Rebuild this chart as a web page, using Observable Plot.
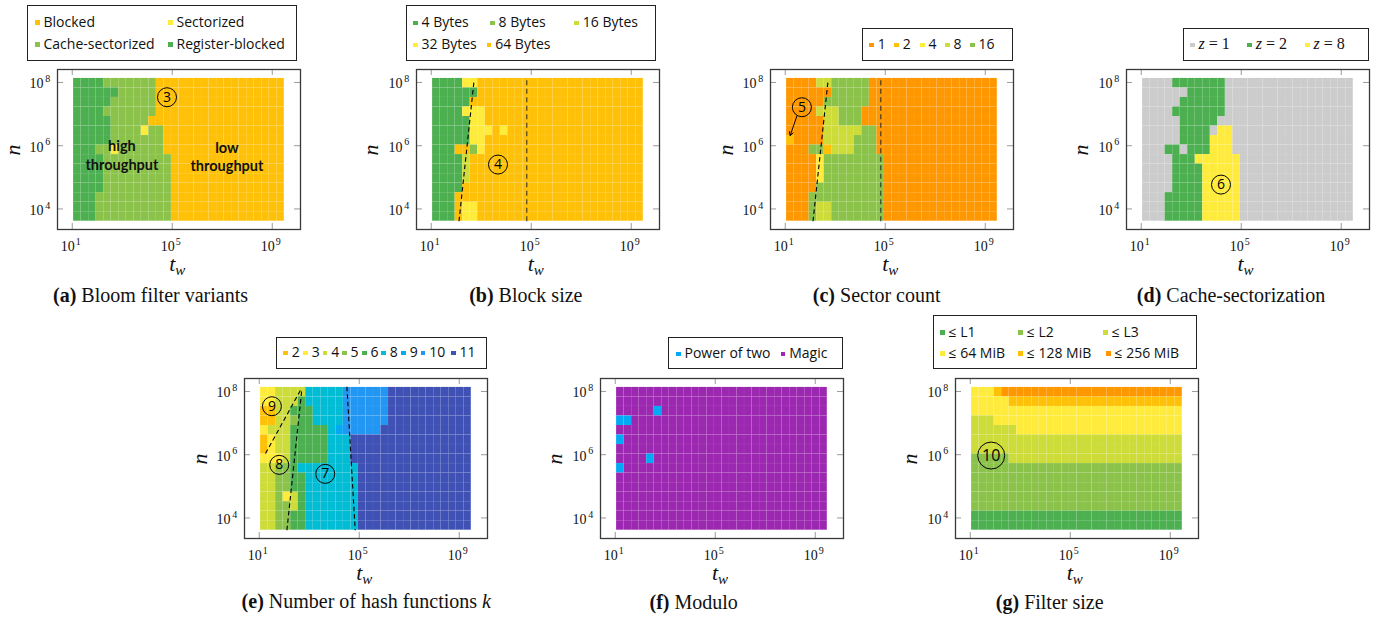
<!DOCTYPE html>
<html><head><meta charset="utf-8">
<script src="https://cdn.jsdelivr.net/npm/d3@7"></script>
<script src="https://cdn.jsdelivr.net/npm/@observablehq/plot@0.6"></script>
<style>
body{margin:0;background:#fff}
#root{position:relative;width:1387px;height:620px;overflow:hidden;background:#fff}
.legend{position:absolute;border:1.2px solid #222;box-sizing:border-box;background:#fff}
.li{position:absolute;display:flex;align-items:center;transform:translateY(-50%);height:18px;font-family:"Open Sans",sans-serif;font-size:14px;white-space:nowrap;color:#111}
.mk{display:inline-block;width:4.5px;height:4.5px;margin-right:4px;margin-top:3px}
.math{font-family:"Liberation Serif",serif;font-size:16px}
.cap{position:absolute;font-family:"Liberation Serif",serif;font-size:20px;white-space:nowrap;transform:translate(-50%,-50%);color:#111}
.atitle{position:absolute;font-family:"Liberation Serif",serif;font-style:italic;font-size:22px;white-space:nowrap;transform:translate(-50%,-50%);color:#111}
.atitle sub{font-size:15px;vertical-align:-4px}
.panel{position:absolute}
</style>
</head><body><div id="root"></div>
<script>
// ---------- axis categories ----------
const twExponents = [4,5,6,7,8,9,10,11,12,13,14,15,16,17,18,19,20,21,22,23,24,25,26,27,28,29,30,31]; // log2(t_w), column centres
const nExponents = [26,25,24,23,22,21,20,19,18,17,16,15,14,13,12]; // log2(n), row lower edges (top row first)
const xTicks = [1e1, 1e5, 1e9];
const yTicks = [1e4, 1e6, 1e8];

// ---------- (a) Bloom filter variants ----------
const bloomLabels = ["Blocked", "Sectorized", "Cache-sectorized", "Register-blocked"];
const bloomCodes = {B: "Blocked", S: "Sectorized", C: "Cache-sectorized", R: "Register-blocked"};
const bloomRows = [
  "R4 C7 B17", "R6 C5 B17", "R5 C6 B17", "R4 C7 B17", "R5 C5 B18",
  "R5 C4 S1 C2 B16", "R5 C7 B16", "R3 C2 S1 C6 B16",
  "R4 C9 B15", "R4 C9 B15", "R4 C9 B15", "R4 C9 B15",
  "R3 C10 B15", "R3 C10 B15", "R3 C10 B15"
];
// ---------- (b) Block size ----------
const blockLabels = ["4 Bytes", "8 Bytes", "16 Bytes", "32 Bytes", "64 Bytes"];
const blockCodes = {G: "4 Bytes", L: "8 Bytes", M: "16 Bytes", Y: "32 Bytes", A: "64 Bytes"};
const blockRows = [
  "G4 Y2 A22", "G6 A22", "G5 A23", "G4 Y3 A21", "G5 Y2 A21",
  "G5 Y3 A1 Y1 A18", "G5 Y2 A21", "G3 A2 L1 Y1 A21",
  "G4 M1 A23", "G4 M1 A23", "G4 M1 A23", "G4 A24",
  "G3 A25", "G3 A1 Y2 A22", "G3 A1 Y2 A22"
];
// ---------- (c) Sector count ----------
const sectorLabels = ["1", "2", "4", "8", "16"];
const sectorCodes = {O: "1", A: "2", Y: "4", M: "8", G: "16"};
const sectorRows = [
  "O4 M2 G5 O17", "O6 G5 O17", "O5 G6 O17", "O4 M3 G3 O18", "O5 M2 G3 O18",
  "O5 M5 G2 O16", "A1 O4 M4 G3 O16", "O3 G2 A1 M3 G3 O16",
  "O4 Y1 G8 O15", "O4 Y1 G8 O15", "O4 Y1 G8 O15", "O4 G9 O15",
  "O3 G10 O15", "O3 G1 M2 G7 O15", "O3 G1 M2 G7 O15"
];
// ---------- (d) Cache-sectorization ----------
const cacheLabels = ["z = 1", "z = 2", "z = 8"];
const cacheCodes = {Z: "z = 1", T: "z = 2", E: "z = 8"};
const cacheRows = [
  "Z4 T7 Z17", "Z6 T5 Z17", "Z5 T6 Z17", "Z4 T7 Z17", "Z5 T5 Z18",
  "Z5 T4 Z1 E2 Z16", "Z5 T4 E3 Z16", "Z3 T2 Z1 T3 E3 Z16",
  "Z4 T3 E6 Z15", "Z4 T4 E5 Z15", "Z4 T4 E5 Z15", "Z4 T4 E5 Z15",
  "Z3 T5 E5 Z15", "Z3 T5 E5 Z15", "Z3 T5 E5 Z15"
];
// ---------- (e) Number of hash functions k ----------
const hashLabels = ["2", "3", "4", "5", "6", "8", "9", "10", "11"];
const hashCodes = {A: "2", Y: "3", L: "4", G: "5", D: "6", C: "8", S: "9", B: "10", I: "11"};
const hashRows = [
  "Y2 L4 C5 B6 I11", "Y2 L3 D1 C5 B6 I11", "A2 L2 D3 C4 B6 I11", "A2 L2 G1 D2 C4 B6 I11",
  "Y1 L3 D5 C1 S1 B5 I12", "A1 Y1 L2 D5 C3 I16", "A1 Y1 L2 D5 C3 I16", "Y3 L1 D5 C3 I16",
  "L2 G2 D1 C8 I15", "L2 G2 D2 C7 I15", "L2 G2 D2 C7 I15", "L2 G1 Y1 L1 D1 C7 I15",
  "L2 G2 L1 D1 C7 I15", "L2 G2 D2 C7 I15", "L2 G2 D2 C7 I15"
];
// ---------- (f) Modulo ----------
const moduloLabels = ["Power of two", "Magic"];
const moduloCodes = {P: "Power of two", M: "Magic"};
const moduloRows = [
  "M28", "M28", "M5 P1 M22", "P2 M26", "M28", "P1 M27", "M28", "M4 P1 M23",
  "P1 M27", "M28", "M28", "M28", "M28", "M28", "M28"
];
// ---------- (g) Filter size ----------
const sizeLabels = ["≤ L1", "≤ L2", "≤ L3", "≤ 64 MiB", "≤ 128 MiB", "≤ 256 MiB"];
const sizeCodes = {A: "≤ L1", B: "≤ L2", C: "≤ L3", D: "≤ 64 MiB", E: "≤ 128 MiB", F: "≤ 256 MiB"};
const sizeRows = [
  "D3 E1 F24", "D5 E23", "D28", "C3 D25", "C6 D22", "C28", "C28", "B5 C23",
  "B28", "B28", "B28", "B28", "B28", "A28", "A28"
];

// ---------- annotations (log10 t_w, log10 n) ----------
const bloomCircles = [{x: 4.79, y: 7.533, label: "3"}];
const bloomNotes = [{x: 2.986, y: 5.72, text: "high\nthroughput"}, {x: 7.186, y: 5.673, text: "low\nthroughput"}];
const blockCircles = [{x: 3.67, y: 5.404, label: "4"}];
const sectorCircles = [{x: 1.666, y: 7.217, label: "5"}];
const sectorArrows = [{x1: 1.466, y1: 6.938, x2: 1.198, y2: 6.321}];
const cacheCircles = [{x: 4.19, y: 4.77, label: "6"}];
const hashCircles = [{x: 3.64, y: 5.394, label: "7"}, {x: 1.80, y: 5.679, label: "8"}, {x: 1.506, y: 7.533, label: "9"}];
const sizeCircles = [{x: 1.838, y: 5.973, label: "10"}];
const slantLines = [{x1: 2.11, y1: 3.61, x2: 2.71, y2: 8.04}];
const boundLines = [{x1: 4.82, y1: 3.612, x2: 4.82, y2: 8.128}];
const hashLines = [
  {x1: 1.25, y1: 6.037, x2: 2.65, y2: 8.04},
  {x1: 2.106, y1: 3.61, x2: 2.706, y2: 8.084},
  {x1: 4.506, y1: 8.147, x2: 4.838, y2: 3.61}
];

// ---------- style / layout ----------
const C = {amber: "#FFC107", yellow: "#FFEB3B", lime: "#CDDC39", lgreen: "#8BC34A", green: "#4CAF50",
  orange: "#FF9800", grey: "#CCCCCC", cyan: "#00BCD4", lblue: "#03A9F4", blue: "#2196F3",
  indigo: "#3F51B5", purple: "#9C27B0"};
const X_DOMAIN = [10 ** 0.41, 10 ** 10.13];
const Y_DOMAIN = [10 ** 3.35, 10 ** 8.41];
const FW = 243, FH = 160, ML = 60, MR = 10, MT = 10, MB = 30;

const panels = [
  {rows: bloomRows, codes: bloomCodes, labels: bloomLabels, colors: [C.amber, C.yellow, C.lgreen, C.green],
   frame: [57.3, 69], box: [27, 5, 297, 61], pos: [[35, 21], [168, 21], [35, 43], [168, 43]],
   cap: {x: 150.5, y: 295, tag: "(a)", text: "Bloom filter variants"},
   circles: bloomCircles, notes: bloomNotes},
  {rows: blockRows, codes: blockCodes, labels: blockLabels, colors: [C.green, C.lgreen, C.lime, C.yellow, C.amber],
   frame: [415.8, 69], box: [405.7, 5, 656, 61], pos: [[413, 21.7], [490, 21.7], [574.3, 21.7], [413, 43.3], [486.7, 43.3]],
   cap: {x: 525.8, y: 295, tag: "(b)", text: "Block size"},
   circles: blockCircles, slant: slantLines, bound: boundLines},
  {rows: sectorRows, codes: sectorCodes, labels: sectorLabels, colors: [C.orange, C.amber, C.yellow, C.lime, C.lgreen],
   frame: [770.3, 69], box: [861.7, 28.3, 1013.3, 60.7], pos: [[869.3, 43.3], [894.3, 43.3], [920, 43.3], [945, 43.3], [970, 43.3]],
   cap: {x: 876.7, y: 295, tag: "(c)", text: "Sector count"},
   circles: sectorCircles, arrows: sectorArrows, slant: slantLines, bound: boundLines},
  {rows: cacheRows, codes: cacheCodes, labels: cacheLabels, colors: [C.grey, C.green, C.yellow], math: true,
   frame: [1125.5, 69], box: [1182.7, 28.3, 1369, 60.7], pos: [[1190, 43.3], [1247.3, 43.3], [1305, 43.3]],
   cap: {x: 1231, y: 295, tag: "(d)", text: "Cache-sectorization"},
   circles: cacheCircles},
  {rows: hashRows, codes: hashCodes, labels: hashLabels,
   colors: [C.amber, C.yellow, C.lime, C.lgreen, C.green, C.cyan, C.lblue, C.blue, C.indigo],
   frame: [244.3, 378], box: [275.7, 337.3, 486.7, 369],
   pos: [[283.3, 351.7], [303.3, 351.7], [322.7, 351.7], [342, 351.7], [362, 351.7], [381.3, 351.7], [401.3, 351.7], [420.7, 351.7], [451, 351.7]],
   cap: {x: 366.3, y: 601, tag: "(e)", text: "Number of hash functions ", mathText: "k"},
   circles: hashCircles, slant: hashLines},
  {rows: moduloRows, codes: moduloCodes, labels: moduloLabels, colors: [C.lblue, C.purple],
   frame: [600, 377.7], box: [667.7, 336.7, 842.7, 369], pos: [[676, 352.7], [780.7, 352.7]],
   cap: {x: 693.7, y: 602, tag: "(f)", text: "Modulo"}},
  {rows: sizeRows, codes: sizeCodes, labels: sizeLabels,
   colors: [C.green, C.lgreen, C.lime, C.yellow, C.amber, C.orange],
   frame: [954.8, 378], box: [932.7, 315, 1196.7, 369],
   pos: [[940, 331], [1018.3, 331], [1103.3, 331], [940, 352], [1018.3, 352], [1106, 352]],
   cap: {x: 1049.7, y: 602, tag: "(g)", text: "Filter size"},
   circles: sizeCircles, circleR: 13.5, circleFont: 16}
];

const root = document.getElementById("root");

function decodeRow(row, codes) {
  const out = [];
  for (const run of row.split(" ")) {
    const code = run[0], len = +run.slice(1);
    for (let i = 0; i < len; i++) out.push(codes[code]);
  }
  return out;
}

function el(tag, cls, style, html) {
  const e = document.createElement(tag);
  if (cls) e.className = cls;
  Object.assign(e.style, style || {});
  if (html != null) e.innerHTML = html;
  root.appendChild(e);
  return e;
}

const serif = "Liberation Serif";
const tx = 10 ** (6 / 25), ty = 10 ** (6 / 31.6);
const P = v => 10 ** v;

for (const p of panels) {
  const cells = p.rows.flatMap((row, r) =>
    decodeRow(row, p.codes).map((cat, c) => ({tw: twExponents[c], n: nExponents[r], cat})));

  const marks = [
    Plot.rect(cells, {x1: d => 2 ** (d.tw - 0.5), x2: d => 2 ** (d.tw + 0.5), y1: d => 2 ** d.n, y2: d => 2 ** (d.n + 1),
      fill: "cat", stroke: "#fff", strokeOpacity: 0.06, strokeWidth: 0.5}),
    // inner ticks on all four sides
    Plot.ruleX(xTicks, {x: d => d, y1: Y_DOMAIN[0], y2: Y_DOMAIN[0] * ty, stroke: "#9a9a9a", strokeWidth: 1}),
    Plot.ruleX(xTicks, {x: d => d, y1: Y_DOMAIN[1], y2: Y_DOMAIN[1] / ty, stroke: "#9a9a9a", strokeWidth: 1}),
    Plot.ruleY(yTicks, {y: d => d, x1: X_DOMAIN[0], x2: X_DOMAIN[0] * tx, stroke: "#9a9a9a", strokeWidth: 1}),
    Plot.ruleY(yTicks, {y: d => d, x1: X_DOMAIN[1], x2: X_DOMAIN[1] / tx, stroke: "#9a9a9a", strokeWidth: 1}),
    Plot.frame({stroke: "#3a3a3a", strokeWidth: 1.3}),
    // tick labels 10^k
    Plot.text(xTicks, {x: d => d, frameAnchor: "bottom", text: () => "10", dx: -4.5, dy: 16.7, textAnchor: "middle", lineAnchor: "middle",
      fontFamily: serif, fontSize: 14, fill: "#111"}),
    Plot.text(xTicks, {x: d => d, frameAnchor: "bottom", text: d => String(Math.round(Math.log10(d))), dx: 6, dy: 12, textAnchor: "middle", lineAnchor: "middle",
      fontFamily: serif, fontSize: 10, fill: "#111"}),
    Plot.text(yTicks, {y: d => d, frameAnchor: "left", text: () => "10", dx: -14, dy: 1.5, textAnchor: "end", lineAnchor: "middle",
      fontFamily: serif, fontSize: 14, fill: "#111"}),
    Plot.text(yTicks, {y: d => d, frameAnchor: "left", text: d => String(Math.round(Math.log10(d))), dx: -7.3, dy: -3.5, textAnchor: "end", lineAnchor: "middle",
      fontFamily: serif, fontSize: 10, fill: "#111"})
  ];
  if (p.bound) marks.push(Plot.link(p.bound, {x1: d => P(d.x1), y1: d => P(d.y1), x2: d => P(d.x2), y2: d => P(d.y2),
    stroke: "#222", strokeOpacity: 0.75, strokeWidth: 1.3, strokeDasharray: "5,3.5"}));
  if (p.slant) marks.push(Plot.link(p.slant, {x1: d => P(d.x1), y1: d => P(d.y1), x2: d => P(d.x2), y2: d => P(d.y2),
    stroke: "#000", strokeWidth: 1.1, strokeDasharray: "4.5,3"}));
  if (p.arrows) marks.push(Plot.arrow(p.arrows, {x1: d => P(d.x1), y1: d => P(d.y1), x2: d => P(d.x2), y2: d => P(d.y2),
    stroke: "#000", strokeWidth: 1, headLength: 6}));
  if (p.notes) marks.push(Plot.text(p.notes, {x: d => P(d.x), y: d => P(d.y), text: "text", lineHeight: 1.3,
    fontFamily: "Lato", fontWeight: "bold", fontSize: 14.5, fill: "#111", textAnchor: "middle", lineAnchor: "middle"}));
  if (p.circles) {
    marks.push(Plot.dot(p.circles, {x: d => P(d.x), y: d => P(d.y), r: p.circleR || 9.5, stroke: "#000", strokeWidth: 1, fill: "none"}));
    marks.push(Plot.text(p.circles, {x: d => P(d.x), y: d => P(d.y), text: "label", fontFamily: "Open Sans", fontSize: p.circleFont || 14,
      fill: "#000", textAnchor: "middle", lineAnchor: "middle"}));
  }

  const svg = Plot.plot({
    width: ML + FW + MR, height: MT + FH + MB,
    marginLeft: ML, marginRight: MR, marginTop: MT, marginBottom: MB,
    x: {type: "log", domain: X_DOMAIN, axis: null},
    y: {type: "log", domain: Y_DOMAIN, axis: null},
    color: {domain: p.labels, range: p.colors},
    style: {background: "none", maxWidth: "none", overflow: "visible"},
    marks
  });
  const holder = el("div", "panel", {left: (p.frame[0] - ML) + "px", top: (p.frame[1] - MT) + "px", width: (ML + FW + MR) + "px"});
  holder.appendChild(svg);

  // axis titles
  el("div", "atitle", {left: (p.frame[0] + 120) + "px", top: (p.frame[1] + 196) + "px"}, "t<sub>w</sub>");
  el("div", "atitle", {left: (p.frame[0] - 44.8) + "px", top: (p.frame[1] + 81) + "px", transform: "translate(-50%,-50%) rotate(-90deg)"}, "n");

  // legend
  const [l, t, r, b] = p.box;
  el("div", "legend", {left: l + "px", top: t + "px", width: (r - l) + "px", height: (b - t) + "px"});
  p.labels.forEach((lab, i) => {
    const [x, y] = p.pos[i];
    const txt = p.math ? `<span class="math"><i>${lab[0]}</i>${lab.slice(1)}</span>` : lab;
    el("div", "li", {left: x + "px", top: y + "px"}, `<span class="mk" style="background:${p.colors[i]}"></span><span>${txt}</span>`);
  });

  // caption
  const extra = p.cap.mathText ? `<i>${p.cap.mathText}</i>` : "";
  el("div", "cap", {left: p.cap.x + "px", top: p.cap.y + "px"}, `<b>${p.cap.tag}</b> ${p.cap.text}${extra}`);
}
</script>
</body></html>
